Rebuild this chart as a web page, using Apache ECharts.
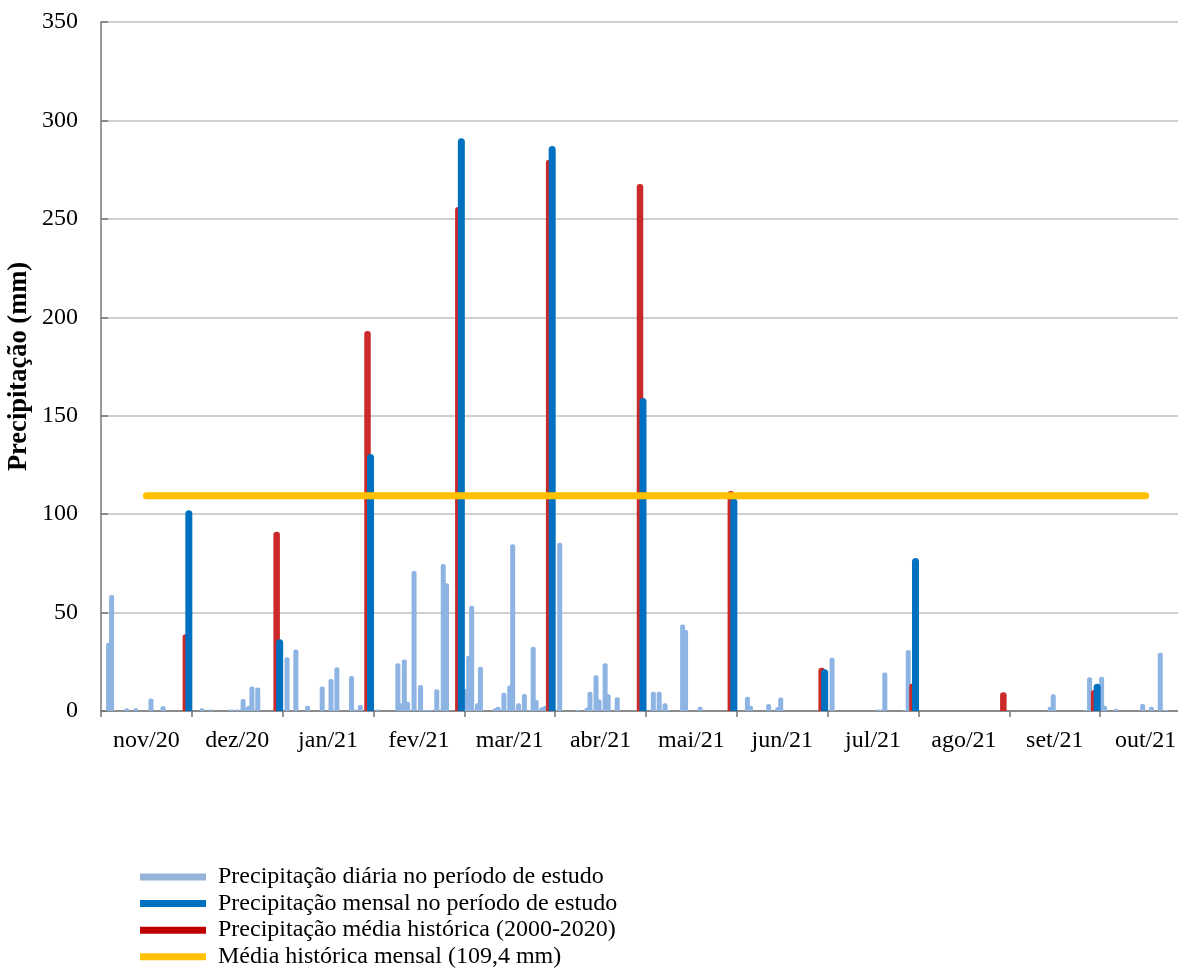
<!DOCTYPE html>
<html><head><meta charset="utf-8">
<script src="https://cdn.jsdelivr.net/npm/echarts@6/dist/echarts.min.js"></script>
<style>html,body{margin:0;padding:0;background:#fff}#c{width:1178px;height:975px}</style>
</head><body><div id="c"></div><script>
// ---- data ----
const months = ['nov/20','dez/20','jan/21','fev/21','mar/21','abr/21','mai/21','jun/21','jul/21','ago/21','set/21','out/21'];
const daysInMonth = [30,31,31,28,31,30,31,30,31,31,30,31];
const yTicks = {min: 0, max: 350, interval: 50};

// daily precipitation [day of month, mm]
const dailyNov20 = [[3,34.7],[4,58.9],[9,1.4],[12,1.4],[17,6.4],[21,2.4]];
const dailyDez20 = [[4,1.4],[7,0.8],[14,0.8],[16,0.8],[18,6.1],[19,1.7],[20,2.7],[21,12.4],[23,12.0]];
const dailyJan21 = [[2,27.3],[5,31.3],[9,2.7],[14,12.5],[17,16.2],[18,0.8],[19,22.2],[24,17.8],[25,0.8],[27,3.0]];
const dailyFev21 = [[2,0.8],[8,24.2],[9,4.0],[10,26.2],[11,4.7],[13,71.1],[15,13.2],[16,0.5],[17,0.5],[18,0.5],[20,11.0],[22,74.7],[23,64.9]];
const dailyMar21 = [[1,11.2],[2,28.1],[3,53.5],[5,3.9],[6,22.5],[11,1.4],[12,2.2],[14,9.3],[16,12.9],[17,84.7],[19,3.9],[21,8.6],[23,0.5],[24,32.7],[25,5.6],[27,1.9],[28,2.5]];
const dailyAbr21 = [[2,85.5],[8,0.5],[11,1.7],[12,9.8],[14,18.1],[15,5.9],[17,24.2],[18,8.5],[21,7.0]];
const dailyMai21 = [[3,9.8],[5,9.8],[7,3.9],[8,0.5],[13,44.0],[14,41.1],[19,2.2]];
const dailyJun21 = [[4,7.3],[5,2.7],[11,3.6],[14,1.9],[15,6.8]];
const dailyJul21 = [[2,27.1],[18,0.7],[20,19.5],[27,0.5],[28,31.0]];
const dailyAgo21 = [];
const dailySet21 = [[14,2.2],[15,8.5],[26,0.5],[27,17.1]];
const dailyOut21 = [[1,17.4],[2,2.7],[6,1.0],[15,3.6],[18,2.2],[21,29.6],[23,0.5]];
const dailyByMonth = [dailyNov20,dailyDez20,dailyJan21,dailyFev21,dailyMar21,dailyAbr21,dailyMai21,dailyJun21,dailyJul21,dailyAgo21,dailySet21,dailyOut21];

// monthly totals (study period) and historical mean 2000-2020, plotted at month end
const monthlyStudy = [102, 36.4, 130.5, 291, 287, 159, 108, 21.2, 77.7, 0, 13.9];
const monthlyHistoric = [39, 91, 193, 256, 280, 267.7, 111.7, 22, 14, 9.5, 10.7];
const historicMean = 109.4;

// ---- build ----
const dailyPoints = [];
dailyByMonth.forEach((arr, i) => arr.forEach(([d, v]) => dailyPoints.push([i + (d - 0.5) / daysInMonth[i], v])));
const studyPoints = monthlyStudy.map((v, i) => [i + 1, v]);
const histPoints = monthlyHistoric.map((v, i) => [i + 1, v]);

function barRenderer(width, offset, radius) {
  return function (params, api) {
    const x = api.value(0), y = api.value(1);
    if (!(y > 0)) return null;
    const b = api.coord([x, 0]);
    const t = api.coord([x, y]);
    return {
      type: 'rect',
      shape: {x: b[0] - width / 2 + offset, y: t[1], width: width, height: b[1] - t[1], r: [radius, radius, 0, 0]},
      style: api.style()
    };
  };
}

const font = 'Liberation Serif';
const chart = echarts.init(document.getElementById('c'), null, {renderer: 'canvas'});
chart.setOption({
  animation: false,
  backgroundColor: '#ffffff',
  grid: {left: 101, top: 22, width: 1090, height: 689, containLabel: false, outerBoundsMode: 'none'},
  legend: {
    orient: 'vertical', left: 140, top: 865, padding: 0, itemWidth: 66, itemHeight: 7, itemGap: 2.6,
    icon: 'rect',
    textStyle: {fontFamily: font, fontSize: 24, color: '#000', padding: [0, 0, 0, 7]},
    data: [
      {name: 'Precipitação diária no período de estudo', itemStyle: {color: '#95B3D7'}},
      {name: 'Precipitação mensal no período de estudo', itemStyle: {color: '#0070C0'}},
      {name: 'Precipitação média histórica (2000-2020)', itemStyle: {color: '#C00000'}},
      {name: 'Média histórica mensal (109,4 mm)', itemStyle: {color: '#FFC000'}}
    ],
    selectedMode: false
  },
  xAxis: [
    {
      type: 'category', data: months, boundaryGap: true, position: 'bottom',
      axisLine: {lineStyle: {color: '#767676', width: 1.5}},
      axisTick: {show: true, length: 6, inside: false, interval: 0, lineStyle: {color: '#767676', width: 1.5}},
      axisLabel: {interval: 0, margin: 18, fontFamily: font, fontSize: 24, color: '#000'},
      splitLine: {show: false}
    },
    {type: 'value', min: 0, max: 12, show: false, splitLine: {show: false}}
  ],
  yAxis: {
    type: 'value', min: yTicks.min, max: yTicks.max, interval: yTicks.interval,
    name: 'Precipitação (mm)', nameLocation: 'middle', nameRotate: 90, nameGap: 68, nameMoveOverlap: false,
    nameTextStyle: {fontFamily: font, fontSize: 26.5, fontWeight: 'bold', color: '#000'},
    axisLine: {show: true, lineStyle: {color: '#767676', width: 1.5}},
    axisTick: {show: true, inside: true, length: 7, lineStyle: {color: '#767676', width: 1.5}},
    axisLabel: {margin: 23, fontFamily: font, fontSize: 24, color: '#000'},
    splitLine: {show: true, lineStyle: {color: '#BFBFBF', width: 1.5}}
  },
  series: [
    {
      name: 'Precipitação diária no período de estudo', type: 'custom', xAxisIndex: 1,
      renderItem: barRenderer(5, 0, 2), data: dailyPoints, clip: true, z: 2,
      itemStyle: {color: '#8DB4E2'}
    },
    {
      name: 'Precipitação média histórica (2000-2020)', type: 'custom', xAxisIndex: 1,
      renderItem: barRenderer(6.5, -6, 3), data: histPoints, clip: true, z: 3,
      itemStyle: {color: '#CC2A2A'}
    },
    {
      name: 'Precipitação mensal no período de estudo', type: 'custom', xAxisIndex: 1,
      renderItem: barRenderer(7, -3, 3.5), data: studyPoints, clip: true, z: 4,
      itemStyle: {color: '#0070C0'}
    },
    {
      name: 'Média histórica mensal (109,4 mm)', type: 'line', xAxisIndex: 1,
      data: [[0.5, historicMean], [11.5, historicMean]], symbol: 'none', z: 5,
      lineStyle: {color: '#FFC000', width: 7, cap: 'round'}, itemStyle: {color: '#FFC000'}
    }
  ]
});
</script></body></html>
